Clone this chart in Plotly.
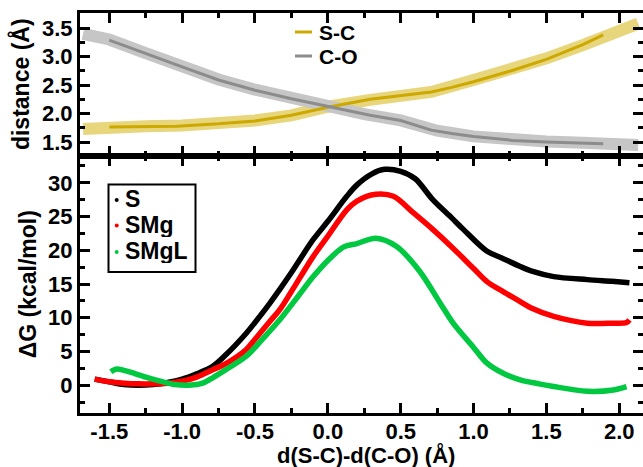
import plotly.graph_objects as go

# ---------------- data ----------------
# top panel: distances (Å) vs reaction coordinate
sc_band_x = [-1.68, -1.50, -1.25, -1.00, -0.75, -0.50, -0.25, 0.00, 0.29, 0.50, 0.71, 1.00, 1.25, 1.50, 1.75, 1.89, 2.00, 2.13]
sc_band_y = [1.73, 1.76, 1.78, 1.79, 1.83, 1.88, 1.97, 2.12, 2.24, 2.32, 2.38, 2.59, 2.77, 2.97, 3.20, 3.35, 3.46, 3.58]
sc_line_x = [-1.50, -1.26, -1.035, -0.75, -0.50, -0.25, 0.00, 0.29, 0.50, 0.71, 0.85, 1.00, 1.27, 1.50, 1.75, 1.89]
sc_line_y = [1.765, 1.77, 1.78, 1.82, 1.87, 1.97, 2.11, 2.25, 2.32, 2.38, 2.46, 2.56, 2.76, 2.95, 3.21, 3.38]

co_band_x = [-1.68, -1.50, -1.25, -1.00, -0.75, -0.50, -0.25, 0.00, 0.25, 0.50, 0.75, 1.00, 1.25, 1.50, 1.75, 2.00, 2.13]
co_band_y = [3.40, 3.30, 3.06, 2.82, 2.60, 2.42, 2.27, 2.12, 1.99, 1.88, 1.70, 1.60, 1.54, 1.51, 1.49, 1.48, 1.45]
co_line_x = [-1.50, -1.26, -1.00, -0.75, -0.50, -0.25, 0.00, 0.29, 0.50, 0.71, 0.85, 1.00, 1.27, 1.50, 1.89]
co_line_y = [3.29, 3.06, 2.82, 2.59, 2.41, 2.26, 2.12, 1.97, 1.88, 1.71, 1.65, 1.60, 1.53, 1.50, 1.47]

# bottom panel: free energy profiles (kcal/mol)
s_x = [-1.60, -1.50, -1.40, -1.30, -1.20, -1.10, -1.00, -0.90, -0.79, -0.70, -0.56, -0.50, -0.40, -0.33, -0.25,
       -0.10, 0.00, 0.13, 0.20, 0.30, 0.39, 0.50, 0.60, 0.72, 0.85, 0.93, 1.09, 1.20, 1.32, 1.40, 1.55, 1.78, 1.95, 2.07]
s_g = [0.9, 0.5, 0.1, 0.0, 0.1, 0.4, 0.9, 1.7, 2.8, 4.5, 7.7, 9.3, 12.1, 14.2, 16.7,
       21.6, 24.3, 28.0, 29.7, 31.3, 32.0, 31.7, 30.6, 27.5, 24.8, 23.1, 19.9, 18.8, 17.6, 16.9, 16.1, 15.65, 15.4, 15.2]

smg_x = [-1.60, -1.50, -1.40, -1.30, -1.20, -1.10, -1.00, -0.90, -0.79, -0.70, -0.56, -0.50, -0.40, -0.33, -0.25,
         -0.10, 0.00, 0.13, 0.20, 0.33, 0.45, 0.59, 0.72, 0.85, 1.00, 1.09, 1.20, 1.32, 1.40, 1.55, 1.78, 1.95, 2.05, 2.07]
smg_g = [0.9, 0.5, 0.3, 0.2, 0.2, 0.3, 0.6, 1.2, 2.3, 3.2, 5.3, 6.8, 9.4, 11.2, 13.9,
         19.1, 22.1, 26.0, 27.3, 28.3, 28.0, 25.5, 23.1, 20.5, 17.3, 15.4, 13.9, 12.4, 11.4, 10.2, 9.2, 9.2, 9.3, 9.7]

smgl_x = [-1.49, -1.45, -1.40, -1.35, -1.25, -1.15, -1.05, -0.95, -0.86, -0.79, -0.70, -0.56, -0.45, -0.33, -0.20,
          -0.10, 0.00, 0.11, 0.20, 0.33, 0.47, 0.63, 0.77, 0.86, 1.00, 1.09, 1.20, 1.32, 1.45, 1.55, 1.78, 1.96, 2.05]
smgl_g = [2.0, 2.4, 2.2, 1.9, 1.2, 0.6, 0.1, 0.0, 0.3, 1.1, 2.3, 4.3, 6.8, 9.7, 13.3,
          16.1, 18.5, 20.5, 21.0, 21.8, 20.6, 16.9, 12.2, 9.2, 5.6, 3.3, 1.8, 0.8, 0.2, -0.2, -0.9, -0.7, -0.2]

x_tick_vals = [-1.5, -1.0, -0.5, 0.0, 0.5, 1.0, 1.5, 2.0]
x_tick_text = ["-1.5", "-1.0", "-0.5", "0.0", "0.5", "1.0", "1.5", "2.0"]
top_series = ["S-C", "C-O"]
bottom_series = ["S", "SMg", "SMgL"]
x_title = "d(S-C)-d(C-O) (Å)"

# ---------------- style ----------------
FONT = "Liberation Sans, Arial, sans-serif"
SC_BAND, SC_LINE = "#E8D67C", "#CCA800"
CO_BAND, CO_LINE = "#C6C6C6", "#8C8C8C"
COLORS = ["#000000", "#FF0000", "#00C840"]

fig = go.Figure()
fig.add_trace(go.Scatter(x=sc_band_x, y=sc_band_y, mode="lines", line=dict(color=SC_BAND, width=12),
                         xaxis="x", yaxis="y", showlegend=False, hoverinfo="skip"))
fig.add_trace(go.Scatter(x=co_band_x, y=co_band_y, mode="lines", line=dict(color=CO_BAND, width=12),
                         xaxis="x", yaxis="y", showlegend=False, hoverinfo="skip"))
fig.add_trace(go.Scatter(x=sc_line_x, y=sc_line_y, mode="lines", line=dict(color=SC_LINE, width=3),
                         xaxis="x", yaxis="y", name=top_series[0], showlegend=False))
fig.add_trace(go.Scatter(x=co_line_x, y=co_line_y, mode="lines", line=dict(color=CO_LINE, width=3),
                         xaxis="x", yaxis="y", name=top_series[1], showlegend=False))

for xs, gs, name, col in [(s_x, s_g, bottom_series[0], COLORS[0]),
                          (smg_x, smg_g, bottom_series[1], COLORS[1]),
                          (smgl_x, smgl_g, bottom_series[2], COLORS[2])]:
    fig.add_trace(go.Scatter(x=xs, y=gs, mode="lines", line=dict(color=col, width=5.5, shape="spline", smoothing=0.9),
                             xaxis="x2", yaxis="y2", name=name, showlegend=False))

XR = [-1.701, 2.163]
SPLIT = 0.64375
tickfont = dict(family=FONT, size=22, color="black", weight="bold")
titlefont = dict(family=FONT, size=23, color="black", weight="bold")
common = dict(showgrid=False, zeroline=False, ticks="inside", ticklen=10, tickwidth=2.5, tickcolor="black",
              showline=True, linewidth=3, linecolor="black", automargin=False, layer="above traces")
minor = dict(ticks="inside", ticklen=5, tickwidth=2.5, tickcolor="black", showgrid=False)

fig.update_layout(
    template="none",
    width=643, height=467, margin=dict(l=80, r=0, t=13, b=54, autoexpand=False),
    paper_bgcolor="white", plot_bgcolor="white", showlegend=False,
    font=dict(family=FONT, color="black"),
    xaxis=dict(domain=[0, 1], anchor="y", range=XR, tickmode="array", tickvals=x_tick_vals,
               showticklabels=False, mirror="ticks",
               minor=dict(minor, tickmode="linear", tick0=0, dtick=0.25), **common),
    yaxis=dict(domain=[SPLIT, 1], anchor="x", range=[1.265, 3.765], tick0=0, dtick=0.5, tickformat=".1f",
               tickfont=tickfont, minor=dict(minor, dtick=0.25), mirror="ticks",
               title=dict(text="distance (Å)", font=titlefont, standoff=6), **common),
    xaxis2=dict(domain=[0, 1], anchor="y2", range=XR, tickmode="array", tickvals=x_tick_vals,
                ticktext=x_tick_text, tickfont=tickfont, mirror="ticks", ticklabelstandoff=-3,
                minor=dict(minor, tickmode="linear", tick0=0, dtick=0.25), **common),
    yaxis2=dict(domain=[0, SPLIT], anchor="x2", range=[-4.12, 34.05], tick0=0, dtick=5,
                tickfont=tickfont, minor=dict(minor, dtick=2.5), mirror="ticks",
                title=dict(text="ΔG (kcal/mol)", font=titlefont, standoff=6), **common),
)

# ---------------- legends / x title ----------------
def px_x(p):
    return (p - 80) / 563.0

def px_y(p):
    return (413 - p) / 400.0

# x-axis title
fig.add_annotation(xref="paper", yref="paper", x=px_x(366), y=px_y(455), xanchor="center", yanchor="middle",
                   text=x_title, showarrow=False, borderpad=0,
                   font=dict(family=FONT, size=22, color="black", weight="bold"))

# top legend: line samples + labels
for name, col, py in [(top_series[0], SC_LINE, 32), (top_series[1], CO_LINE, 56)]:
    fig.add_shape(type="line", xref="paper", yref="paper", x0=px_x(295), x1=px_x(312),
                  y0=px_y(py), y1=px_y(py), line=dict(color=col, width=3))
    fig.add_annotation(xref="paper", yref="paper", x=px_x(318), y=px_y(py), xanchor="left", yanchor="middle",
                       height=20, valign="middle", borderpad=0,
                       text=name, showarrow=False, font=dict(family=FONT, size=21, color="black", weight="bold"))

# bottom legend: box + dots + labels
fig.add_shape(type="rect", xref="paper", yref="paper", x0=px_x(108.5), x1=px_x(195.5),
              y0=px_y(272), y1=px_y(184.5), line=dict(color="black", width=2), fillcolor="rgba(0,0,0,0)")
for name, col, py in zip(bottom_series, COLORS, [200, 225.5, 252]):
    fig.add_shape(type="circle", xref="paper", yref="paper", x0=px_x(114.7), x1=px_x(118.7),
                  y0=px_y(py + 2), y1=px_y(py - 2), line=dict(color=col, width=0), fillcolor=col)
    fig.add_annotation(xref="paper", yref="paper", x=px_x(124), y=px_y(py - 1), xanchor="left", yanchor="middle",
                       height=24, valign="middle", borderpad=0,
                       text=name, showarrow=False, font=dict(family=FONT, size=23, color="black", weight="bold"))

fig.write_html("out.html")
